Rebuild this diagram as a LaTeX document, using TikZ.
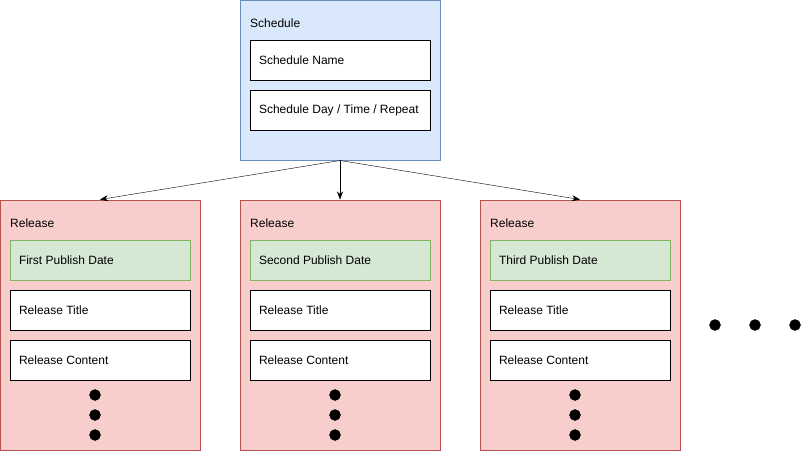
\documentclass[tikz,border=0pt]{standalone}
\usepackage{fontspec}
\setmainfont{Liberation Sans}
\usetikzlibrary{arrows.meta}
\definecolor{blueFill}{HTML}{DAE8FC}
\definecolor{blueLine}{HTML}{6C8EBF}
\definecolor{redFill}{HTML}{F8CECC}
\definecolor{redLine}{HTML}{B85450}
\definecolor{greenFill}{HTML}{D5E8D4}
\definecolor{greenLine}{HTML}{82B366}
\tikzset{
    field/.style={draw=black, fill=white, line width=1pt, minimum height=40pt,
        inner xsep=9pt, font=\fontsize{12}{14}\selectfont,
        execute at begin node={\hbox to 162pt\bgroup},
        execute at end node={\hfil\egroup}},
    title/.style={anchor=base west, inner sep=0pt, font=\fontsize{12}{14}\selectfont},
}
\begin{document}
\begin{tikzpicture}[x=1pt, y=-1pt]
    \useasboundingbox (0, 0) rectangle (802, 451);

    \node[draw=blueLine, fill=blueFill, line width=1pt, minimum width=200pt, minimum height=160pt] (sched) at (340, 80) {};
    \node[title] (schedTitle) at (250, 27) {Schedule};
    \node[field] (schedName) at (340, 60.5) {Schedule Name};
    \node[field] (schedDay) at (340, 110.5) {Schedule Day / Time / Repeat};

    \foreach \x/\nm/\ord in {100/a/First, 340/b/Second, 580/c/Third} {
        \node[draw=redLine, fill=redFill, line width=1pt, minimum width=200pt, minimum height=250pt] (rel-\nm) at (\x, 325) {};
        \node[title] (relTitle-\nm) at (\x-90, 227) {Release};
        \node[field, draw=greenLine, fill=greenFill] (relDate-\nm) at (\x, 260.5) {\ord{} Publish Date};
        \node[field] (relName-\nm) at (\x, 310.5) {Release Title};
        \node[field] (relBody-\nm) at (\x, 360.5) {Release Content};
        \foreach \y in {395, 415, 435} {
            \filldraw[black] (\x-5, \y) circle (5.5pt);
        }
        \draw[-{Stealth[length=8pt, width=6pt]}] (sched.south) -- (rel-\nm.north);
    }

    \foreach \x in {715, 755, 795} {
        \filldraw[black] (\x, 325) circle (5.5pt);
    }

    \end{tikzpicture}
\end{document}
